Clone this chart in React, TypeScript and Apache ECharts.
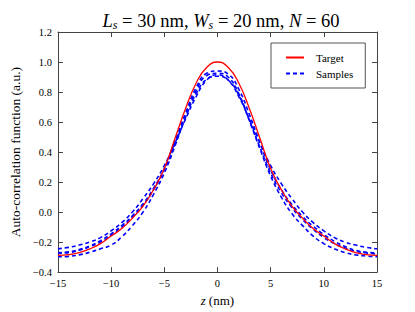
import React, { useEffect, useRef } from "react";
import * as echarts from "echarts";

const zValues = [-15, -14, -13, -12, -11, -10, -9, -8, -7, -6, -5, -4, -3, -2, -1, 0, 1, 2, 3, 4, 5, 6, 7, 8, 9, 10, 11, 12, 13, 14, 15];

const target = [-0.288, -0.283, -0.27, -0.245, -0.21, -0.16, -0.11, -0.04, 0.04, 0.15, 0.29, 0.49, 0.69, 0.86, 0.965, 1.0, 0.965, 0.86, 0.69, 0.49, 0.29, 0.15, 0.04, -0.04, -0.11, -0.16, -0.21, -0.245, -0.27, -0.283, -0.288];

const sample1 = [-0.245, -0.235, -0.22, -0.2, -0.17, -0.125, -0.07, 0.0, 0.09, 0.19, 0.31, 0.46, 0.62, 0.77, 0.88, 0.915, 0.88, 0.77, 0.62, 0.46, 0.31, 0.19, 0.09, 0.0, -0.07, -0.125, -0.17, -0.2, -0.22, -0.235, -0.245];
const sample2 = [-0.27, -0.265, -0.25, -0.225, -0.19, -0.145, -0.09, -0.025, 0.055, 0.16, 0.29, 0.47, 0.66, 0.83, 0.925, 0.94, 0.92, 0.82, 0.65, 0.46, 0.28, 0.15, 0.05, -0.03, -0.095, -0.15, -0.195, -0.23, -0.255, -0.268, -0.272];
const sample3 = [-0.275, -0.27, -0.255, -0.23, -0.2, -0.155, -0.1, -0.035, 0.045, 0.15, 0.28, 0.45, 0.63, 0.79, 0.885, 0.905, 0.88, 0.78, 0.61, 0.43, 0.26, 0.13, 0.03, -0.05, -0.115, -0.17, -0.21, -0.24, -0.26, -0.272, -0.278];
const sample4 = [-0.298, -0.295, -0.285, -0.268, -0.245, -0.22, -0.165, -0.09, 0.0, 0.12, 0.26, 0.44, 0.64, 0.81, 0.91, 0.925, 0.9, 0.79, 0.61, 0.42, 0.24, 0.1, -0.01, -0.09, -0.16, -0.21, -0.245, -0.27, -0.285, -0.293, -0.297];

const samples = [sample1, sample2, sample3, sample4];

const xTickValues = [-15, -10, -5, 0, 5, 10, 15];
const xTickLabels = ["\u221215", "\u221210", "\u22125", "0", "5", "10", "15"];
const yTickValues = [-0.4, -0.2, 0.0, 0.2, 0.4, 0.6, 0.8, 1.0, 1.2];
const yTickLabels = ["\u22120.4", "\u22120.2", "0.0", "0.2", "0.4", "0.6", "0.8", "1.0", "1.2"];

const FONT = "Liberation Serif";
const AXIS_COLOR = "#444";

function lookup(values: number[], labels: string[], v: number): string {
  for (let i = 0; i < values.length; i++) {
    if (Math.abs(values[i] - v) < 1e-6) return labels[i];
  }
  return "";
}

function pairs(ys: number[]) {
  return zValues.map((z, i) => [z, ys[i]]);
}

export default function App() {
  const ref = useRef<HTMLDivElement>(null);
  useEffect(() => {
    if (!ref.current) return;
    const chart = echarts.init(ref.current, undefined, { renderer: "svg" });
    const axisCommon = {
      axisLine: { show: true, onZero: false, lineStyle: { color: AXIS_COLOR, width: 1 } },
      axisTick: { show: true, inside: true, length: 5, lineStyle: { color: AXIS_COLOR } },
      splitLine: { show: false },
    };
    const option: any = {
      animation: false,
      backgroundColor: "#fff",
      textStyle: { fontFamily: FONT },
      title: {
        text: "{i|L}{s|s}{n| = 30 nm, }{i|W}{s|s}{n| = 20 nm, }{i|N}{n| = 60}",
        left: 216,
        textAlign: "center",
        top: 5,
        textStyle: {
          fontWeight: "normal",
          fontFamily: FONT,
          rich: {
            i: { fontFamily: FONT, fontStyle: "italic", fontWeight: "normal", fontSize: 18.5, color: "#000" },
            s: { fontFamily: FONT, fontStyle: "italic", fontWeight: "normal", fontSize: 12, color: "#000", verticalAlign: "bottom", padding: [9, 0, 0, 0] },
            n: { fontFamily: FONT, fontWeight: "normal", fontSize: 18.5, color: "#000" },
          },
        },
      },
      grid: { left: 56, right: 38, top: 32, bottom: 32 },
      legend: {
        orient: "vertical",
        left: 271,
        top: 43,
        padding: [9, 12, 9, 14],
        itemWidth: 18,
        itemHeight: 10,
        itemGap: 5,
        borderColor: "#555",
        borderWidth: 1,
        backgroundColor: "#fff",
        borderRadius: 0,
        itemStyle: { opacity: 0, borderWidth: 0 },
        data: [{ name: "Target" }, { name: "Samples" }],
        textStyle: { fontFamily: FONT, fontSize: 11, color: "#000", padding: [0, 0, 0, 7] },
      },
      xAxis: [
        {
          type: "value",
          min: -15,
          max: 15,
          interval: 5,
          ...axisCommon,
          axisLabel: {
            margin: 6,
            fontFamily: FONT,
            fontSize: 10.5,
            color: "#000",
            formatter: (v: number) => lookup(xTickValues, xTickLabels, v),
          },
          name: "{i|z} {n|(nm)}",
          nameLocation: "middle",
          nameGap: 16,
          nameTextStyle: {
            fontFamily: FONT,
            rich: {
              i: { fontFamily: FONT, fontStyle: "italic", fontSize: 13, color: "#000" },
              n: { fontFamily: FONT, fontSize: 13, color: "#000" },
            },
          },
        },
        {
          type: "value",
          position: "top",
          min: -15,
          max: 15,
          interval: 5,
          ...axisCommon,
          axisLabel: { show: false },
        },
      ],
      yAxis: [
        {
          type: "value",
          min: -0.4,
          max: 1.2,
          interval: 0.2,
          ...axisCommon,
          axisLabel: {
            margin: 6,
            fontFamily: FONT,
            fontSize: 10.5,
            color: "#000",
            formatter: (v: number) => lookup(yTickValues, yTickLabels, v),
          },
          name: "Auto-correlation function (a.u.)",
          nameLocation: "middle",
          nameGap: 33,
          nameTextStyle: { fontFamily: FONT, fontSize: 13.5, color: "#000" },
        },
        {
          type: "value",
          position: "right",
          min: -0.4,
          max: 1.2,
          interval: 0.2,
          ...axisCommon,
          axisLabel: { show: false },
        },
      ],
      series: [
        ...samples.map((s) => ({
          type: "line",
          name: "Samples",
          data: pairs(s),
          smooth: true,
          symbol: "none",
          xAxisIndex: 0,
          yAxisIndex: 0,
          lineStyle: { color: "#0000ff", width: 1.6, type: [4, 3] },
          itemStyle: { color: "#0000ff" },
          z: 2,
        })),
        {
          type: "line",
          name: "Target",
          data: pairs(target),
          smooth: true,
          symbol: "none",
          xAxisIndex: 0,
          yAxisIndex: 0,
          lineStyle: { color: "#ff0000", width: 1.3 },
          itemStyle: { color: "#ff0000" },
          z: 3,
        },
      ],
    };
    chart.setOption(option);
    return () => chart.dispose();
  }, []);
  return <div ref={ref} style={{ width: 415, height: 312, position: "absolute", left: 0, top: 0 }} />;
}
